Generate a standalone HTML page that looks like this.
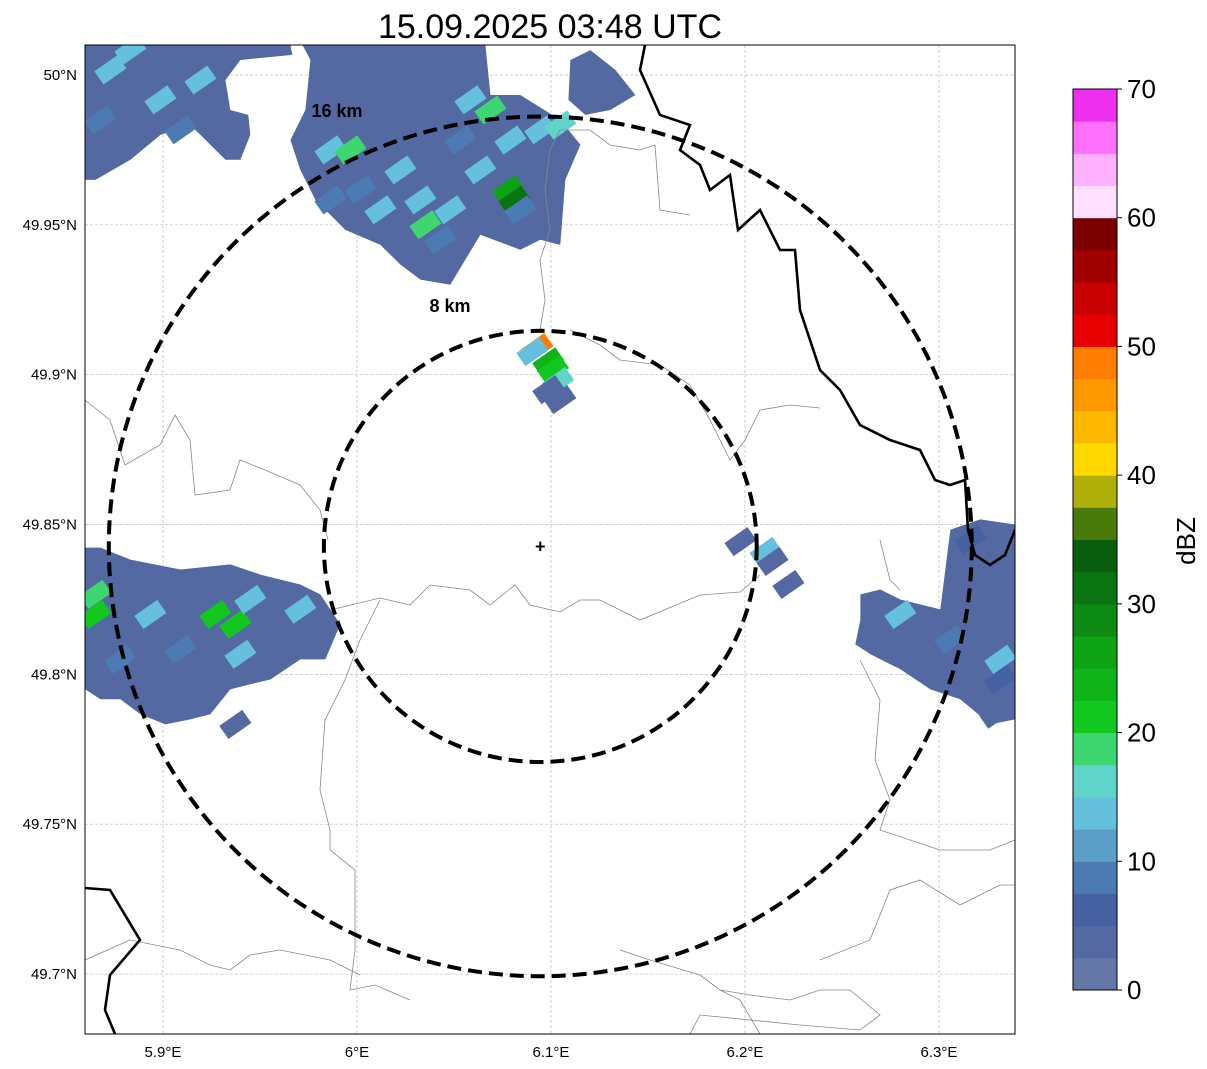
<!DOCTYPE html>
<html><head><meta charset="utf-8"><style>
html,body{margin:0;padding:0;background:#fff;}
svg{display:block;font-family:"Liberation Sans",sans-serif;}
</style></head><body>
<svg id="chart" width="1207" height="1069" viewBox="0 0 1207 1069">
<text x="550" y="38" font-size="34" text-anchor="middle">15.09.2025 03:48 UTC</text>
<defs><clipPath id="mapclip"><rect x="85" y="45" width="930" height="989"/></clipPath></defs>
<g id="map" clip-path="url(#mapclip)">
<g id="grid"></g>
<g id="echoes"></g>
<g fill="none" stroke="#888" stroke-width="0.8">
<path d="M85,400 L110,420 L125,465 L160,445 L175,415 L190,440 L195,495 L230,490 L240,460 L265,470 L300,485 L320,510 L328,540"/>
<path d="M330,610 L380,598 L410,605 L430,585 L470,590 L490,605 L515,585 L530,605 L560,612 L580,600 L600,600 L640,620 L700,595 L740,592 L760,575"/>
<path d="M570,330 L600,345 L620,360 L660,365 L690,385 L710,420 L730,460 L745,440 L760,410 L790,405 L820,408"/>
<path d="M540,330 L545,300 L540,260 L550,230 L545,190 L550,150 L560,130 L590,130 L610,145 L640,150 L655,145 L660,210 L690,215"/>
<path d="M880,540 L890,580 L900,590 M860,660 L880,700 L875,760 L890,800 L880,830 L940,850 L990,850 L1015,840"/>
<path d="M380,600 L360,640 L345,680 L325,720 L320,790 L330,830 L330,850 L355,870 L355,950 L350,990 L375,985 L410,1000"/>
<path d="M85,960 L130,940 L180,950 L210,965 L230,970 L250,955 L280,950 L330,960 L360,975"/>
<path d="M620,950 L650,960 L700,975 L720,990 L750,995 L790,1000 L820,990 L850,990 L880,1015 L860,1030 L800,1025 L700,1015 L690,1034"/>
<path d="M960,905 L1000,885 L1015,885 M820,960 L870,940 L890,890 L920,880 L960,905"/>
<path d="M760,1034 L740,1000 L720,990"/>
</g>
<g fill="none" stroke="#000" stroke-width="2.6">
<path d="M645,45 L640,70 L660,115 L690,125 L680,150 L700,165 L710,190 L730,175 L738,230 L760,210 L780,250 L795,250 L800,310 L820,370 L840,390 L860,425 L890,440 L920,450 L935,480 L950,485 L965,480 L968,530 L975,555 L990,565 L1005,555 L1015,530"/>
<path d="M85,888 L110,890 L140,940 L110,975 L105,1010 L115,1034"/>
</g>
<g id="rings"></g>
</g>
<rect x="85" y="45" width="930" height="989" fill="none" stroke="#000" stroke-width="1"/>
<g id="axes"></g>
<g id="cbar"></g>
<text x="1195" y="541" font-size="26" text-anchor="middle" transform="rotate(-90 1195 541)">dBZ</text>
</svg>
<script>
const lonTicks=[5.9,6.0,6.1,6.2,6.3];
const lonLabels=["5.9°E","6°E","6.1°E","6.2°E","6.3°E"];
const latTicks=[50.0,49.95,49.9,49.85,49.8,49.75,49.7];
const latLabels=["50°N","49.95°N","49.9°N","49.85°N","49.8°N","49.75°N","49.7°N"];
const radarSite=[6.0945,49.8427];
const ringRadiiKm=[8,15.95];
const cbarLevels=[0,2.5,5,7.5,10,12.5,15,17.5,20,22.5,25,27.5,30,32.5,35,37.5,40,42.5,45,47.5,50,52.5,55,57.5,60,62.5,65,67.5];
const cbarColors=["#6577a6","#5469a2","#4560a3","#4c7bb3","#5b9fc9","#64c0dc","#60d4c8","#3dd670","#12c81e","#10b418","#0ea215","#0c8a14","#0b7412","#085e0e","#4a7a0a","#b0b00a","#ffd800","#ffb800","#ff9800","#ff7d00","#e80000","#c80000","#a00000","#7c0000","#ffe0ff","#ffb0ff","#ff70ff","#f030f0"];
const cbarTicks=[0,10,20,30,40,50,60,70];
const echoA=[[5.86,50.01],[5.9657,50.01],[5.9667,50.0067],[5.9399,50.005],[5.9322,49.9983],[5.9347,49.9883],[5.944,49.9867],[5.945,49.98],[5.9399,49.9717],[5.9322,49.9717],[5.9193,49.98],[5.9141,49.9833],[5.8987,49.98],[5.8832,49.9717],[5.8652,49.965],[5.86,49.965]];
const echoB=[[5.9719,50.01],[6.0662,50.01],[6.0688,49.9933],[6.0842,49.9933],[6.1048,49.985],[6.1152,49.9767],[6.1074,49.965],[6.1048,49.9433],[6.0945,49.945],[6.0842,49.9417],[6.0636,49.9467],[6.0481,49.93],[6.0327,49.9317],[6.0224,49.9367],[6.0121,49.9433],[5.994,49.9483],[5.9786,49.9583],[5.9708,49.9683],[5.9657,49.9783],[5.9734,49.9883],[5.976,50.005]];
const echoC=[[6.11,50.005],[6.1203,50.0083],[6.1332,50.0017],[6.1435,49.9933],[6.1306,49.9883],[6.1177,49.9867],[6.109,49.9917]];
const echoF=[[5.86,49.8423],[5.8677,49.8423],[5.8832,49.8383],[5.909,49.835],[5.9347,49.8367],[5.9502,49.8333],[5.9708,49.83],[5.9811,49.8267],[5.9914,49.8167],[5.9837,49.805],[5.9708,49.805],[5.9554,49.7983],[5.945,49.7967],[5.9347,49.795],[5.9244,49.7867],[5.9141,49.785],[5.9012,49.7833],[5.8884,49.7867],[5.878,49.7917],[5.8677,49.7917],[5.86,49.795]];
const echoG=[[6.2595,49.8267],[6.2698,49.8283],[6.2801,49.825],[6.3007,49.8217],[6.3059,49.8483],[6.3213,49.8517],[6.3394,49.85],[6.3394,49.785],[6.3265,49.7833],[6.311,49.7917],[6.2956,49.795],[6.2801,49.8017],[6.2647,49.8067],[6.2569,49.81],[6.2595,49.8183]];
const echoAreas=[echoA,echoB,echoC,echoF,echoG];
const echoBase=[2.5,2.5,2.5,2.5,2.5];
const gateLon=[5.9863,6.0121,6.0327,6.0481,6.0636,6.0791,6.0945,6.1048,6.0224,6.0585,5.9966,6.0353,6.0688,6.078,6.0811,6.0018,6.043,6.0842,5.9863,6.0533,5.8729,5.9193,5.8987,5.8832,5.8677,5.909,6.093,6.0904,6.0986,6.1011,6.1037,6.1048,6.0986,6.1977,6.2106,6.2142,6.2224,5.927,5.9373,5.8652,5.8652,5.8935,5.945,5.9708,5.878,5.909,5.9399,5.9373,6.2801,6.3059,6.3316,6.3162,6.3316,6.329];
const gateLat=[49.975,49.955,49.9583,49.955,49.9683,49.9783,49.9817,49.9833,49.9683,49.9917,49.975,49.95,49.9883,49.9617,49.9583,49.9617,49.945,49.955,49.9583,49.9783,50.0017,49.9983,49.9917,50.0083,49.985,49.9817,49.909,49.9077,49.9043,49.9017,49.8977,49.8917,49.895,49.8443,49.841,49.8377,49.83,49.82,49.8167,49.82,49.8267,49.82,49.825,49.8217,49.805,49.8083,49.8067,49.7833,49.82,49.8117,49.805,49.845,49.7983,49.7867];
const gateDbz=[12.5,12.5,12.5,12.5,12.5,12.5,12.5,15,12.5,12.5,17.5,17.5,17.5,25,30,7.5,7.5,7.5,7.5,7.5,12.5,12.5,12.5,12.5,7.5,7.5,47.5,12.5,22.5,20,15,2.5,2.5,2.5,12.5,2.5,2.5,20,20,20,17.5,12.5,12.5,12.5,7.5,7.5,12.5,2.5,12.5,7.5,12.5,5,5,2.5];

const NS="http://www.w3.org/2000/svg";
const X0=85,X1=1015,Y0=45,Y1=1034,LON0=5.8598,LON1=6.3392,LAT0=50.01,LAT1=49.68;
function xs(lon){return X0+(lon-LON0)/(LON1-LON0)*(X1-X0);}
function ys(lat){return Y0+(LAT0-lat)/(LAT0-LAT1)*(Y1-Y0);}
function mk(tag,attrs,parent){const e=document.createElementNS(NS,tag);for(const k in attrs)e.setAttribute(k,attrs[k]);parent.appendChild(e);return e;}
function colorFor(v){let i=Math.floor(v/2.5);i=Math.max(0,Math.min(cbarColors.length-1,i));return cbarColors[i];}
const grid=document.getElementById('grid'),axes=document.getElementById('axes');
lonTicks.forEach((t,i)=>{const x=xs(t);
 const l=mk('line',{x1:x,y1:Y0,x2:x,y2:Y1,stroke:'#bbb','stroke-width':0.7,'stroke-dasharray':'3,2'},grid);
 
 
 const tx=mk('text',{x:x,y:1057,'font-size':15,'text-anchor':'middle'},axes);tx.textContent=lonLabels[i];
 
 
});
latTicks.forEach((t,i)=>{const y=ys(t);
 const l=mk('line',{x1:X0,y1:y,x2:X1,y2:y,stroke:'#bbb','stroke-width':0.7,'stroke-dasharray':'3,2'},grid);
 
 
 const tx=mk('text',{x:77,y:y+5,'font-size':15,'text-anchor':'end'},axes);tx.textContent=latLabels[i];
 
 
});
const cx=xs(radarSite[0]),cy=ys(radarSite[1]);
const echoes=document.getElementById('echoes');
echoAreas.forEach((area,i)=>{
 const p=mk('polygon',{points:area.map(q=>xs(q[0])+','+ys(q[1])).join(' '),fill:colorFor(echoBase[i])},echoes);
 
 
});
gateLon.forEach((lo,i)=>{
 const x=xs(lo),y=ys(gateLat[i]);
 const r=mk('rect',{x:x-14,y:y-8,width:28,height:16,fill:colorFor(gateDbz[i]),transform:`rotate(-35 ${x} ${y})`},echoes);
 
 
});
const rings=document.getElementById('rings');
const kmLat=1/111.2,kmLon=1/(111.2*Math.cos(radarSite[1]*Math.PI/180));
ringRadiiKm.forEach(km=>{
 const rx=xs(radarSite[0]+km*kmLon)-cx,ry=ys(radarSite[1]-km*kmLat)-cy;
 const e=mk('ellipse',{cx:cx,cy:cy,rx:rx,ry:ry,fill:'none',stroke:'#000','stroke-width':4,'stroke-dasharray':'14,7'},rings);
 
 
 const tx=mk('text',{x:km<10?450:337,y:km<10?312:117,'font-size':18,'font-weight':'bold','text-anchor':'middle'},rings);
 tx.textContent=Math.round(km)+' km';
 
 
});
const mp=mk('text',{x:cx,y:cy+6,'font-size':18,'font-weight':'bold','text-anchor':'middle'},rings);mp.textContent='+';


const cb=document.getElementById('cbar');
const CBX=1073,CBW=44,CBT=89,CBB=990;
function cy2(v){return CBB-(v/70)*(CBB-CBT);}
cbarLevels.forEach((lv,i)=>{
 const r=mk('rect',{x:CBX,y:cy2(lv+2.5),width:CBW,height:cy2(lv)-cy2(lv+2.5)+0.5,fill:cbarColors[i]},cb);
 
 
});
const fr=mk('rect',{x:CBX,y:CBT,width:CBW,height:CBB-CBT,fill:'none',stroke:'#000','stroke-width':1},cb);


cbarTicks.forEach(t=>{const y=cy2(t);
 const l=mk('line',{x1:CBX+CBW,y1:y,x2:CBX+CBW+5,y2:y,stroke:'#000'},cb);
 
 
 const tx=mk('text',{x:CBX+CBW+10,y:y+9,'font-size':26},cb);tx.textContent=t;
 
 
});
</script>
</body></html>
